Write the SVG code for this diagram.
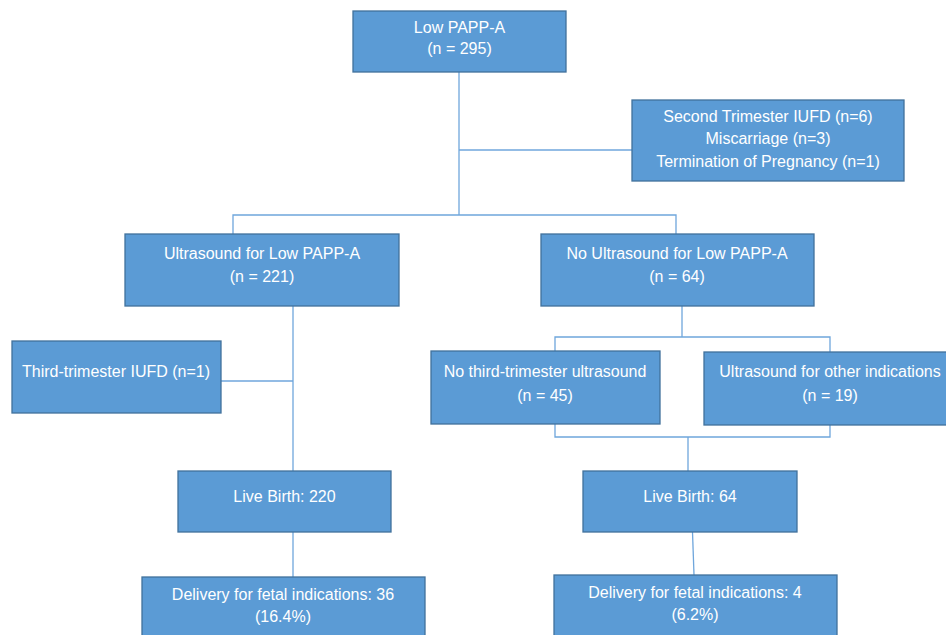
<svg xmlns="http://www.w3.org/2000/svg" width="946" height="635" viewBox="0 0 946 635">
<style>
.box{fill:#5b9bd5;stroke:#41719c;stroke-width:1.3}
.t{font-family:"Liberation Sans",Arial,sans-serif;font-size:16px;fill:#ffffff;text-anchor:middle}
.c{fill:none;stroke:#6fa6dc;stroke-width:1.3}
</style>
<rect width="946" height="635" fill="#ffffff"/>
<g id="connectors">
<path class="c" d="M459,72 V215"/>
<path class="c" d="M459,150 H632"/>
<path class="c" d="M233,234 V215 H676 V234"/>
<path class="c" d="M293,306 V471"/>
<path class="c" d="M221,381 H293"/>
<path class="c" d="M682,306 V337"/>
<path class="c" d="M555,351 V337 H830 V352"/>
<path class="c" d="M555,424 V437 H830 V425"/>
<path class="c" d="M688,437 V471"/>
<path class="c" d="M293,532 V577"/>
<path class="c" d="M692.5,532 L694,575"/>
</g>
<g id="n1"><rect class="box" x="353" y="11" width="213" height="61"/>
<text class="t" x="459.5" y="33">Low PAPP-A</text><text class="t" x="459.5" y="54">(n = 295)</text></g>
<g id="n2"><rect class="box" x="632" y="100" width="272" height="81"/>
<text class="t" x="768" y="122">Second Trimester IUFD (n=6)</text><text class="t" x="768" y="144">Miscarriage (n=3)</text><text class="t" x="768" y="167">Termination of Pregnancy (n=1)</text></g>
<g id="n3"><rect class="box" x="125" y="234" width="274" height="72"/>
<text class="t" x="262" y="259">Ultrasound for Low PAPP-A</text><text class="t" x="262" y="282">(n = 221)</text></g>
<g id="n4"><rect class="box" x="541" y="234" width="273" height="72"/>
<text class="t" x="677" y="259">No Ultrasound for Low PAPP-A</text><text class="t" x="677" y="282">(n = 64)</text></g>
<g id="n5"><rect class="box" x="12" y="341" width="209" height="72"/>
<text class="t" x="116" y="377">Third-trimester IUFD (n=1)</text></g>
<g id="n6"><rect class="box" x="431" y="351" width="229" height="73"/>
<text class="t" x="545" y="377">No third-trimester ultrasound</text><text class="t" x="545" y="401">(n = 45)</text></g>
<g id="n7"><rect class="box" x="704" y="352" width="250" height="73"/>
<text class="t" x="830" y="377">Ultrasound for other indications</text><text class="t" x="830" y="401">(n = 19)</text></g>
<g id="n8"><rect class="box" x="178" y="471" width="213" height="61"/>
<text class="t" x="284.5" y="502">Live Birth: 220</text></g>
<g id="n9"><rect class="box" x="583" y="471" width="214" height="61"/>
<text class="t" x="690" y="502">Live Birth: 64</text></g>
<g id="n10"><rect class="box" x="142" y="577" width="283" height="70"/>
<text class="t" x="283" y="600">Delivery for fetal indications: 36</text><text class="t" x="283" y="622">(16.4%)</text></g>
<g id="n11"><rect class="box" x="554" y="575" width="283" height="70"/>
<text class="t" x="695" y="598">Delivery for fetal indications: 4</text><text class="t" x="695" y="620">(6.2%)</text></g>
</svg>
